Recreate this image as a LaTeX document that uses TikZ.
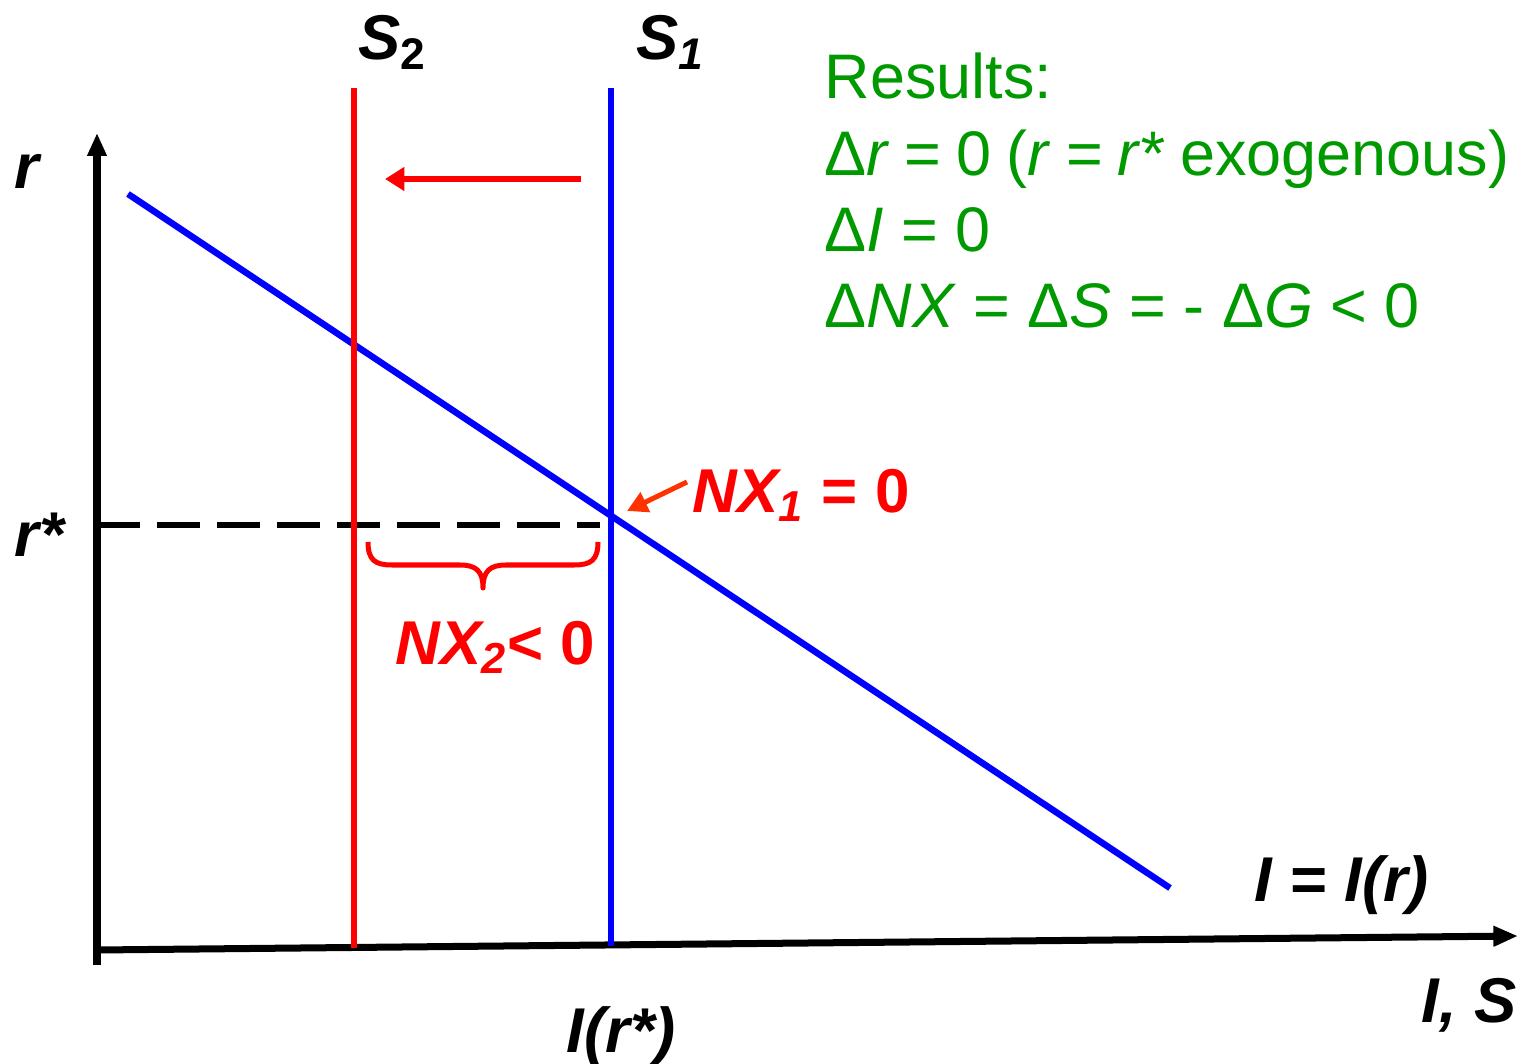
\documentclass[tikz,border=0pt]{standalone}
\usepackage{fontspec}
\setmainfont{Liberation Sans}
\usetikzlibrary{arrows.meta}
\definecolor{myred}{RGB}{255,0,0}
\definecolor{myblue}{RGB}{0,0,255}
\definecolor{mygreen}{RGB}{0,153,0}
\definecolor{myorange}{RGB}{255,51,0}
\tikzset{
  lbl/.style={inner sep=0pt, anchor=base west, font=\fontsize{18}{21}\selectfont\bfseries\itshape},
  redlbl/.style={lbl, text=myred, font=\fontsize{17.6}{21}\selectfont\bfseries\itshape},
  res/.style={inner sep=0pt, anchor=base west, text=mygreen, font=\fontsize{17.9}{21}\selectfont},
  axisline/.style={line width=0.07cm, black},
  demand/.style={line width=0.065cm, myblue},
  supplyone/.style={line width=0.065cm, myblue},
  supplytwo/.style={line width=0.065cm, myred},
  shiftarrow/.style={line width=0.06cm, myred, -{Triangle[length=5.5pt,width=6.5pt]}},
  pointer/.style={line width=0.05cm, myorange, -{Triangle[length=5.8pt,width=6pt]}},
  guide/.style={line width=0.05cm, black, dash pattern=on 0.43cm off 0.17cm},
  bracestyle/.style={line width=0.05cm, myred, line join=round}
}
\begin{document}
\begin{tikzpicture}[x=0.01cm,y=-0.01cm]
\useasboundingbox (0,0) rectangle (1518,1064);
% coordinates
\coordinate (yb) at (97,965);
\coordinate (yt) at (97,133);
\coordinate (xl) at (97,950);
\coordinate (xr) at (1518,936);
\coordinate (da) at (128,194);
\coordinate (db) at (1170,888);
\coordinate (s2t) at (354,88);
\coordinate (s2b) at (354,948);
\coordinate (s1t) at (611,88);
\coordinate (s1b) at (611,946);
\coordinate (sha) at (581,179);
\coordinate (shb) at (385,179);
\coordinate (ga) at (97,525);
\coordinate (gb) at (600,525);
\coordinate (pa) at (687,482);
\coordinate (pb) at (627,511);
% axes
\draw[axisline, -{Triangle[length=6.5pt,width=5.2pt]}] (yb) -- (yt);
\draw[axisline, -{Triangle[length=7pt,width=5.5pt]}] (xl) -- (xr);
% dashed guide
\draw[guide] (ga) -- (gb);
% curves
\draw[demand] (da) -- (db);
\draw[supplytwo] (s2t) -- (s2b);
\draw[supplyone] (s1t) -- (s1b);
% shift arrow
\draw[shiftarrow] (sha) -- (shb);
% pointer
\draw[pointer] (pa) -- (pb);
% brace
\draw[bracestyle] (368,542) .. controls (368,560) and (375,565) .. (392,565) -- (460,565)
  .. controls (476,565) and (483,571) .. (483,588)
  .. controls (483,571) and (490,565) .. (506,565) -- (574,565)
  .. controls (591,565) and (598,560) .. (598,542);
% labels
\node[lbl] (lS2) at (358,60) {S\textsubscript{\upshape 2}};
\node[lbl] (lS1) at (636,60) {S\textsubscript{1}};
\node[lbl] (lr) at (14,189) {r};
\node[lbl] (lrs) at (14,557) {r*};
\node[lbl] (lIrs) at (566,1052) {I(r*)};
\node[lbl] (lIS) at (1421,1022) {I, S};
\node[lbl] (lIr) at (1254,901) {I = I(r)};
\node[redlbl] (lnx1) at (692,512) {NX\textsubscript{1} {\upshape =} {\upshape 0}};
\node[redlbl] (lnx2) at (395,664) {NX\textsubscript{2}{\upshape <} {\upshape 0}};
% results
\node[res] (r1) at (824,99) {Results:};
\node[res] (r2) at (824,176) {\spaceskip=0.24em Δ\textit{r} = 0 (\textit{r} = \textit{r*} exogenous)};
\node[res] (r3) at (824,252) {Δ\textit{I} = 0};
\node[res] (r4) at (824,328) {Δ\textit{NX} = Δ\textit{S} = - Δ\textit{G} < 0};
\end{tikzpicture}
\end{document}
